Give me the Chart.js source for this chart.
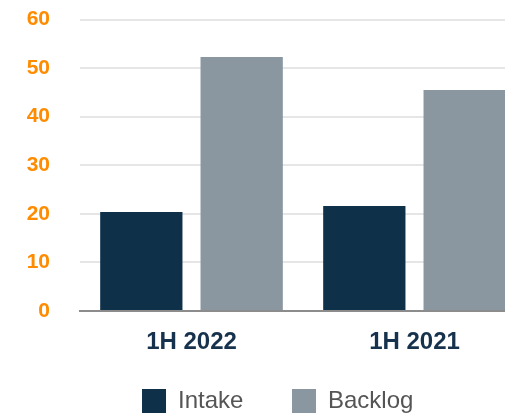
<!DOCTYPE html>
<html>
<head>
<meta charset="utf-8">
<script src="https://cdn.jsdelivr.net/npm/chart.js@4"></script>
<style>
  html, body { margin: 0; padding: 0; background: #ffffff; overflow: hidden; }
  #wrap { position: relative; width: 526px; height: 414px; }
</style>
</head>
<body>
<div id="wrap"><canvas id="c"></canvas></div>
<script>
const categories = ['1H 2022', '1H 2021'];
const intakeValues = [20.4, 21.6];
const backlogValues = [52.3, 45.5];
const seriesNames = ['Intake', 'Backlog'];
const yTicks = [0, 10, 20, 30, 40, 50, 60];

const FONT = "'Liberation Sans', Arial, sans-serif";
const PAD_LEFT = 16;
const X_AXIS_H = 46;
const LEGEND_H = 414 - 311 - X_AXIS_H;
const LEGEND_PAD = 48.6;
const LEGEND_DY = 389 - (414 - LEGEND_H) - LEGEND_PAD;
const LEGEND_DX = 277.7 - (PAD_LEFT + 526) / 2;

const legendFix = {
  id: 'legendFix',
  beforeLayout(chart) {
    const lg = chart.legend;
    if (lg && !lg._patched) {
      const origFit = lg.fit;
      lg.fit = function () { origFit.apply(this, arguments); this.height = LEGEND_H; };
      const origDraw = lg.draw;
      lg.draw = function () {
        const t = this.top, l = this.left, r = this.right;
        this.top = t + LEGEND_DY;
        this.left = l + LEGEND_DX; this.right = r + LEGEND_DX;
        origDraw.apply(this, arguments);
        this.top = t; this.left = l; this.right = r;
      };
      lg._patched = true;
    }
  }
};

new Chart(document.getElementById('c'), {
  type: 'bar',
  data: {
    labels: categories,
    datasets: [
      { label: seriesNames[0], data: intakeValues, backgroundColor: '#0e3049', borderWidth: 0 },
      { label: seriesNames[1], data: backlogValues, backgroundColor: '#8a96a0', borderWidth: 0 }
    ]
  },
  options: {
    responsive: true,
    maintainAspectRatio: false,
    animation: false,
    categoryPercentage: 0.9,
    barPercentage: 0.82,
    layout: { padding: { top: 19.5, left: PAD_LEFT, right: 0, bottom: 0 } },
    scales: {
      x: {
        grid: { display: true, drawOnChartArea: false, drawTicks: false },
        border: { display: true, color: '#8c8c8c', width: 2 },
        ticks: {
          color: '#17324d',
          padding: 17,
          font: { family: FONT, size: 24, weight: 'bold' }
        },
        afterFit(scale) { scale.height = X_AXIS_H; scale.paddingLeft = 0; scale.paddingRight = 0; }
      },
      y: {
        min: yTicks[0],
        max: yTicks[yTicks.length - 1],
        afterBuildTicks(scale) { scale.ticks = yTicks.map(v => ({ value: v })); },
        grid: { color: '#e6e6e6', lineWidth: 2, drawTicks: false },
        border: { display: false },
        ticks: {
          color: '#ff8c00',
          padding: 30,
          font: { family: FONT, size: 21, weight: 'bold' }
        },
        afterFit(scale) { scale.width = 80 - PAD_LEFT; scale.paddingTop = 0; scale.paddingBottom = 0; }
      }
    },
    plugins: {
      tooltip: { enabled: false },
      legend: {
        position: 'bottom',
        labels: {
          boxWidth: 24,
          boxHeight: 24,
          padding: LEGEND_PAD,
          color: '#555555',
          font: { family: FONT, size: 24 }
        }
      }
    }
  },
  plugins: [legendFix]
});
</script>
</body>
</html>
